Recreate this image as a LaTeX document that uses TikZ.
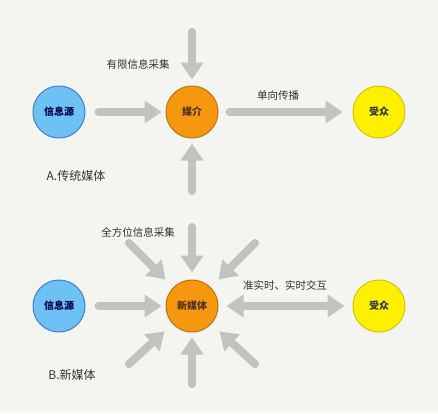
\documentclass[tikz,border=0pt]{standalone}
\usepackage{fontspec}
\setmainfont{Noto Sans CJK SC}
\usetikzlibrary{arrows.meta}
\definecolor{bg}{HTML}{F4F4F1}
\definecolor{arr}{HTML}{C2C2BF}
\definecolor{bluef}{HTML}{6EC1F4}
\definecolor{blued}{HTML}{3F82C6}
\definecolor{orf}{HTML}{F7960F}
\definecolor{ord}{HTML}{C76E05}
\definecolor{yef}{HTML}{FFF000}
\definecolor{yed}{HTML}{D6C400}
\definecolor{txt}{HTML}{333333}
\tikzset{
  circ/.style={circle,minimum size=52pt,inner sep=0pt,line width=1pt,font=\fontsize{10}{12}\selectfont\bfseries},
  src/.style={circ,fill=bluef,draw=blued,text=blue!30!black},
  med/.style={circ,fill=orf,draw=ord,text=brown!40!black},
  aud/.style={circ,fill=yef,draw=yed,text=black!80},
  bigarrow/.style={draw=arr,line width=8pt,line cap=round,-{Triangle[width=22pt,length=17pt]}},
  dblarrow/.style={draw=arr,line width=8pt,{Triangle[width=22pt,length=17pt]}-{Triangle[width=22pt,length=17pt]}},
  lab/.style={text=txt,font=\fontsize{10.5}{12}\selectfont,inner sep=0pt},
  title/.style={text=txt,font=\fontsize{12}{14}\selectfont,inner sep=0pt}
}
\begin{document}
\begin{tikzpicture}[x=1pt,y=-1pt]
\fill[bg] (0,0) rectangle (438,413);
\useasboundingbox (0,0) rectangle (438,413);
% top section
\node[src] (s1) at (59,112) {信息源};
\node[med] (m1) at (192,112) {媒介};
\node[aud] (a1) at (379,112) {受众};
\coordinate (t1) at (192,32);
\coordinate (b1) at (192,191);
\draw[bigarrow,shorten <=13pt,shorten >=4pt] (s1) -- (m1);
\draw[bigarrow,shorten <=11pt,shorten >=10pt] (m1) -- (a1);
\draw[bigarrow,shorten >=6pt] (t1) -- (m1);
\draw[bigarrow,shorten >=5pt] (b1) -- (m1);
\node[lab] (l1) at (138,64) {有限信息采集};
\node[lab] (l2) at (278,95) {单向传播};
\node[title] (ta) at (76,176) {A.传统媒体};
% bottom section
\node[src] (s2) at (59,306) {信息源};
\node[med] (m2) at (192,306) {新媒体};
\node[aud] (a2) at (379,306) {受众};
\coordinate (t2) at (192,227);
\coordinate (b2) at (192,384);
\coordinate (ul) at (129,243);
\coordinate (ur) at (255,243);
\coordinate (ll) at (129,364);
\coordinate (lr) at (255,364);
\draw[bigarrow,shorten <=13pt,shorten >=4pt] (s2) -- (m2);
\draw[dblarrow,shorten <=8pt,shorten >=8pt] (m2) -- (a2);
\draw[bigarrow,shorten >=7pt] (t2) -- (m2);
\draw[bigarrow,shorten >=5pt] (b2) -- (m2);
\draw[bigarrow,shorten >=11pt] (ul) -- (m2);
\draw[bigarrow,shorten >=11pt] (ur) -- (m2);
\draw[bigarrow,shorten >=11pt] (ll) -- (m2);
\draw[bigarrow,shorten >=11pt] (lr) -- (m2);
\node[lab] (l3) at (138,232) {全方位信息采集};
\node[lab] (l4) at (285,285) {准实时、实时交互};
\node[title] (tb) at (72,375) {B.新媒体};
\end{tikzpicture}
\end{document}
